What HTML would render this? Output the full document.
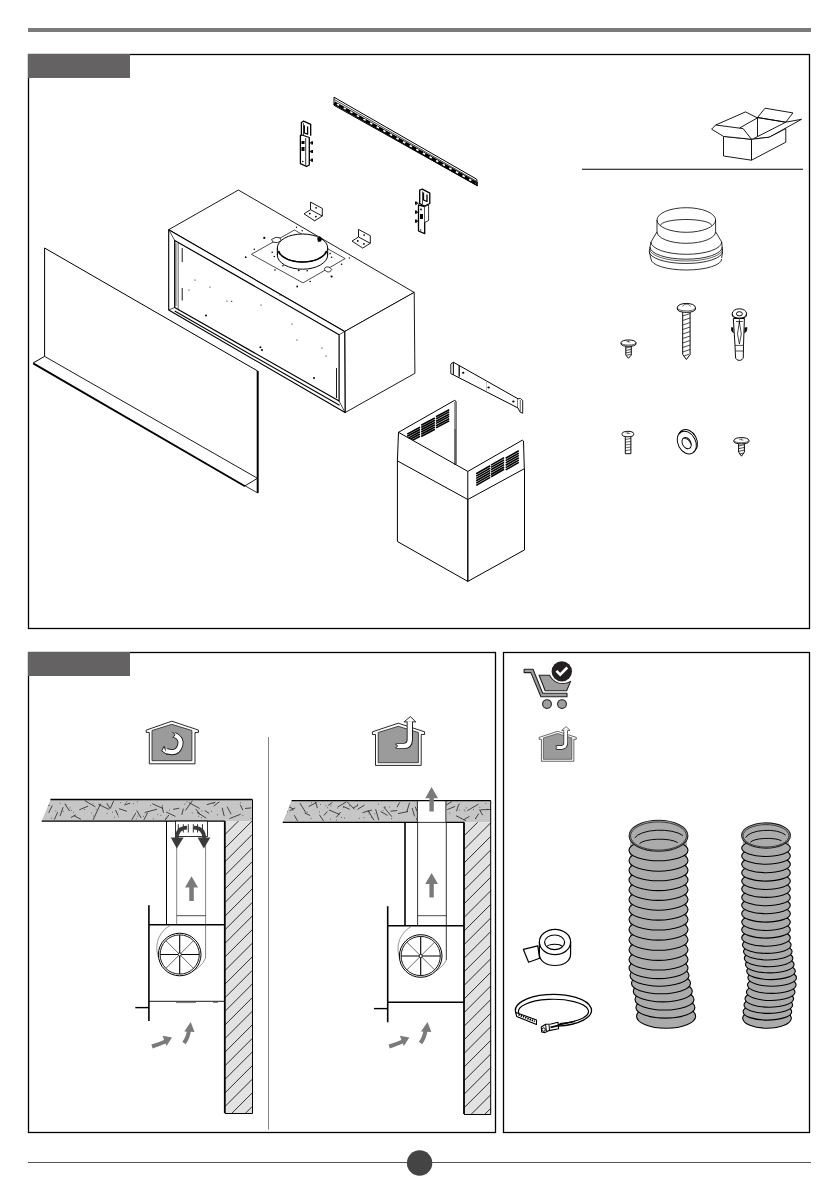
<!DOCTYPE html>
<html><head><meta charset="utf-8"><title>Installation</title>
<style>
html,body{margin:0;padding:0;background:#fff;width:839px;height:1191px;overflow:hidden;font-family:"Liberation Sans",sans-serif;}
svg{position:absolute;left:0;top:0;display:block;}
</style></head>
<body>
<svg width="839" height="1191" viewBox="0 0 839 1191">
<g id="frames">
<rect x="28" y="28" width="783" height="4" fill="#7b7b7b"/>
<rect x="28.5" y="54.5" width="781" height="574" fill="none" stroke="#000" stroke-width="1.3"/>
<rect x="28" y="54" width="102" height="24" fill="#646262"/>
<rect x="28.5" y="652.5" width="467" height="480" fill="none" stroke="#000" stroke-width="1.3"/>
<rect x="28" y="652" width="102" height="24" fill="#646262"/>
<rect x="503.5" y="652.5" width="306" height="480" fill="none" stroke="#000" stroke-width="1.3"/>
<line x1="28" y1="1162.5" x2="811" y2="1162.5" stroke="#555" stroke-width="1.1"/>
<circle cx="419.6" cy="1163" r="12.7" fill="#444"/>
</g>
<g id="hood" fill="none" stroke="#000" stroke-width="0.9" stroke-linejoin="round">
<!-- top face -->
<path d="M168.7,229.7 L238.4,190 L414.2,292.4 L344.7,331.5 Z" fill="#fff"/>
<!-- right face -->
<path d="M344.7,331.5 L414.2,292.4 L414.9,373.3 L345.1,412.6 Z" fill="#fff"/>
<!-- front frame -->
<path d="M168.7,229.7 L344.7,331.5 L345.1,412.6 L168.7,310 Z" fill="#fff" stroke-width="1.1"/>
<path d="M174.7,240.4 L339.1,334.7 L339.1,401 L174.7,307.5 Z" stroke-width="1.2"/>
<path d="M176,243 L176,306" stroke-width="0.6"/>
<path d="M168.7,229.7 L174.7,240.4 M344.7,331.5 L339.1,334.7 M345.1,412.6 L339.1,401 M168.7,310 L174.7,307.5" stroke-width="0.7"/>
<path d="M174.7,311 L339.5,405.3" stroke-width="1.1"/>
<path d="M178.2,243 L178.2,309" stroke-width="0.6"/>
<path d="M182.2,248 L182.2,262 M182.2,288 L182.2,300.5 M336.5,368 L336.5,398" stroke-width="0.9"/>
<!-- duct plate -->
<path d="M251.4,254.3 L294.4,230 L345.2,258.6 L303,282.9 Z" stroke-width="0.7"/>
<ellipse cx="302.5" cy="255" rx="25.2" ry="14.2" fill="#fff" stroke-width="1"/>
<path d="M277.3,248 L277.3,255 M327.7,248 L327.7,255" stroke-width="0.9"/>
<ellipse cx="302.5" cy="248" rx="25.2" ry="14" fill="#fff" stroke-width="1"/>
<path d="M278.5,251 C281,258 291,262 302.5,262 C314,262 324,258 326.5,251" stroke-width="1.6"/>
<path d="M271.5,239.5 l4.5,-2.2 l4,0.6 l1.2,2.5 l-3.5,2.2 l-4.5,-0.4 z" fill="#fff" stroke-width="0.8"/>
<path d="M317.5,238 l2.5,-1.4 l1.8,1.8 l-1,2.8 l-2.6,0.4 z" fill="#000" stroke-width="0.6"/>
<path d="M324.4,268.8 c0.5,-2 3.5,-2.5 5.5,-1.2 l1.8,1.8 l-1.5,2.2 c-2,0.8 -5,0.2 -5.8,-2.8z" fill="#fff" stroke-width="0.8"/>
</g>
<g id="hooddots" fill="#000">
<circle cx="264.3" cy="237.9" r="1.1"/><circle cx="254.3" cy="249.3" r="0.8"/><circle cx="245.7" cy="257.2" r="0.9"/><circle cx="272.2" cy="252.2" r="0.8"/><circle cx="274.3" cy="256.5" r="0.8"/><circle cx="282.9" cy="265.8" r="0.8"/><circle cx="275" cy="270" r="0.8"/><circle cx="298.7" cy="270.3" r="0.9"/><circle cx="307.2" cy="270.8" r="0.8"/><circle cx="310.1" cy="281.5" r="0.8"/><circle cx="297.2" cy="286.5" r="0.9"/><circle cx="330.1" cy="253.6" r="0.8"/><circle cx="331.6" cy="257.2" r="0.8"/><circle cx="341.6" cy="264.3" r="0.8"/><circle cx="331.6" cy="276.5" r="1.1"/><circle cx="349.4" cy="257.9" r="0.7"/><circle cx="302.2" cy="230.7" r="0.7"/><circle cx="296.5" cy="227.2" r="0.7"/><circle cx="314.4" cy="220.3" r="0.7"/><circle cx="195" cy="280" r="0.6"/><circle cx="206" cy="315.6" r="1"/><circle cx="210" cy="287" r="0.6"/><circle cx="227" cy="301" r="0.6"/><circle cx="231.7" cy="301.3" r="0.6"/><circle cx="261" cy="305" r="0.6"/><circle cx="262" cy="350" r="1"/><circle cx="292" cy="324" r="0.6"/><circle cx="297" cy="340" r="0.6"/><circle cx="314" cy="378" r="1"/><circle cx="322" cy="348" r="0.6"/><circle cx="326" cy="356" r="0.6"/><circle cx="189" cy="290" r="0.6"/><circle cx="280" cy="295" r="0.6"/><circle cx="260.4" cy="347.2" r="1"/>
</g>
<g id="panel" fill="none" stroke="#000" stroke-linejoin="round">
<path d="M44.6,356.4 L44.6,248 L257.7,371" stroke-width="1"/>
<path d="M257.7,371 L257.7,492.9" stroke-width="2"/>
<path d="M44.6,356.4 L257.5,478.3 L245,485.8" stroke-width="0.9"/>
<path d="M44.6,356.4 L33.2,362.9" stroke-width="1"/>
<path d="M33.2,363.4 L245,486.3" stroke-width="1.8"/>
<path d="M245,485.8 L257.5,492.9" stroke-width="0.8"/>
</g>
<g id="rail" stroke="#000" fill="none">
<path d="M334,97.2 L476.7,179.2 L477.5,185.9 L334,105.3 Z" fill="#fff" stroke-width="1"/>
<path d="M334.5,99.6 L476.7,181.3" stroke-width="0.7"/>
<path d="M334.3,102.9 L477.2,183.9" stroke-width="3.5"/>
<path d="M337,104.1 L476,183.2" stroke="#fff" stroke-width="1.6" stroke-dasharray="2.6 5"/>
</g>
<g id="brackets" stroke="#000" fill="#fff" stroke-width="1.3" stroke-linejoin="round">
<!-- bracket 1 -->
<path d="M301.4,135.5 L301.4,122.5 L303.6,121.1 L310.7,124.3 L310.7,135.8"/>
<path d="M303.5,123 L303.5,135" stroke-width="0.7"/>
<path d="M304.3,125.3 L304.3,133 L307.6,134.2 L307.6,126.6" fill="none" stroke-width="1.3"/>
<path d="M300.4,135.4 L300.4,163.7 L306.5,166.5 L309.3,165 L309.3,137.5 L302,135Z"/>
<path d="M305.7,138 L305.7,166" stroke-width="0.8"/>
<path d="M309.3,142.9 h2.2 M309.3,151.5 h2.2 M309.3,160.1 h2.2" stroke-width="1.3"/>
<path d="M311.2,141.3 h1.8 v3.2 h-1.8z M311.2,149.9 h1.8 v3.2 h-1.8z M311.2,158.5 h1.8 v3.2 h-1.8z" fill="#000" stroke="none"/>
<path d="M301.5,141 h3 v3 h-3z M301.5,147 h3 v4 h-3z" fill="#000" stroke="none"/>
<circle cx="302.8" cy="161.5" r="0.8" fill="#000" stroke="none"/>
<!-- bracket 2 -->
<path d="M419.7,190.1 L422.3,189.2 L429.8,193.1 L429.8,203.5 L424.5,206 L419.7,203.5 Z"/>
<path d="M422.5,191.5 L422.5,204" stroke-width="0.7"/>
<path d="M423.5,192.5 L423.5,200 L427,201.5 L427,194.5" fill="none" stroke-width="1.3"/>
<path d="M424.7,206.5 L428.6,205 L428.6,220.5 L424.7,222.5 Z" fill="#ddd" stroke="none"/>
<path d="M418.5,205 L418.5,231 L424.7,233.6 L424.7,206.5 Z"/>
<path d="M424.7,206.5 L428.6,205 L428.6,220.5 L424.7,222.5" stroke-width="0.8"/>
<path d="M418.5,203.2 h-2.2 M418.5,212.2 h-2.2 M418.5,221.1 h-2.2" stroke-width="1.3"/>
<path d="M415,201.6 h1.8 v3.2 h-1.8z M415,210.6 h1.8 v3.2 h-1.8z M415,219.5 h1.8 v3.2 h-1.8z" fill="#000" stroke="none"/>
<circle cx="421" cy="209.5" r="0.9" fill="#000" stroke="none"/>
<path d="M420,214 h3 v5 h-3z" fill="#000" stroke="none"/>
<circle cx="420.7" cy="230" r="0.7" fill="#000" stroke="none"/>
<!-- small L brackets -->
<path d="M310.5,202.1 L322.3,208.4 L322.3,216 L310.5,209.7 Z M310.5,209.7 L304,213.8 L314.7,220.8 L322.3,216" stroke-width="0.9"/>
<circle cx="316.1" cy="207.8" r="0.9" fill="#000" stroke="none"/><circle cx="309.8" cy="213.6" r="0.9" fill="#000" stroke="none"/><circle cx="315.9" cy="216.6" r="0.9" fill="#000" stroke="none"/>
<path d="M358.5,229.4 L370.3,235.7 L370.3,243.3 L358.5,237.0 Z M358.5,237.0 L352,241.1 L362.7,248.1 L370.3,243.3" stroke-width="0.9"/>
<circle cx="364.1" cy="235.1" r="0.9" fill="#000" stroke="none"/><circle cx="357.8" cy="240.9" r="0.9" fill="#000" stroke="none"/><circle cx="363.9" cy="243.9" r="0.9" fill="#000" stroke="none"/>
</g>
<g id="chimney" fill="none" stroke="#000" stroke-width="0.9" stroke-linejoin="round">
<!-- bracket bar -->
<path d="M453.3,362.2 L518,398.8 L518,408 L453.3,374.8 Z" fill="#fff" stroke-width="1"/>
<path d="M450.8,364 L453.3,362.2 L453.3,374.8 L450.8,373.6 Z" fill="#fff" stroke-width="0.9"/>
<path d="M459.2,365.5 L459.2,376.8" stroke-width="1.3"/>
<path d="M486.5,381 L486.5,391.5" stroke="#999" stroke-width="0.6"/>
<path d="M518,398.8 L520.5,398.5 L522.7,400.5 L522.7,413.3 L520,412 L518,408" fill="#fff" stroke-width="0.9"/>
<path d="M520.3,400 L520.3,411.5" stroke-width="0.6"/>
<ellipse cx="463.2" cy="372.7" rx="1.2" ry="1" fill="#000" stroke="none"/><ellipse cx="488.6" cy="387.4" rx="1.2" ry="1" fill="#000" stroke="none"/><ellipse cx="513.4" cy="401.6" rx="1.2" ry="1" fill="#000" stroke="none"/>
<!-- upper piece -->
<path d="M398.5,432.3 L454.5,400.4 L456,401.3 L456,464.5" stroke-width="1"/>
<path d="M454.6,402 L454.6,429" stroke="#999" stroke-width="1.2"/>
<path d="M455,429 L455,465" stroke="#555" stroke-width="1.6"/>
<path d="M398.5,432.3 L397.4,460.9" stroke-width="1"/>
<path d="M398.5,432.3 L467.8,471.4 L467.8,499.5" stroke-width="1"/>
<path d="M467.8,471.4 L522.3,440.2 L523.5,441 L524.3,468.6" stroke-width="1"/>
<!-- lower box -->
<path d="M397.4,460.9 L467.8,499.5 L524.5,468.6 L524.5,549.9 L467.8,581.4 L397.4,541.5 Z" fill="none" stroke-width="1"/>
<path d="M467.8,499.5 L467.8,581.4" stroke-width="1.4"/>
</g>
<defs><clipPath id="cbk"><path d="M398.5,432.3 L454.5,400.4 L454.5,463.9 Z"/></clipPath></defs>
<g id="vents" stroke="#000" stroke-width="1.6" fill="none">
<g clip-path="url(#cbk)">
<path d="M407.2,434.1 l12.8,-6.8 M407.2,436.3 l12.8,-6.8 M407.2,438.6 l12.8,-6.8 M407.2,440.8 l12.8,-6.8 M407.2,443.1 l12.8,-6.8"/>
<path d="M421.2,425.3 l13.7,-7.3 M421.2,427.5 l13.7,-7.3 M421.2,429.8 l13.7,-7.3 M421.2,432.0 l13.7,-7.3 M421.2,434.3 l13.7,-7.3 M421.2,436.5 l13.7,-7.3"/>
<path d="M436.0,416.7 l13.2,-7.0 M436.0,418.9 l13.2,-7.0 M436.0,421.2 l13.2,-7.0 M436.0,423.4 l13.2,-7.0 M436.0,425.7 l13.2,-7.0 M436.0,427.9 l13.2,-7.0"/>
</g>
<path d="M476.2,473.7 l14.0,-8.0 M476.2,476.1 l14.0,-8.0 M476.2,478.4 l14.0,-8.0 M476.2,480.8 l14.0,-8.0 M476.2,483.1 l14.0,-8.0 M476.2,485.4 l14.0,-8.0"/>
<path d="M491.0,465.1 l13.1,-7.5 M491.0,467.4 l13.1,-7.5 M491.0,469.8 l13.1,-7.5 M491.0,472.1 l13.1,-7.5 M491.0,474.5 l13.1,-7.5 M491.0,476.8 l13.1,-7.5"/>
<path d="M505.7,458.2 l13.1,-7.5 M505.7,460.6 l13.1,-7.5 M505.7,462.9 l13.1,-7.5 M505.7,465.2 l13.1,-7.5 M505.7,467.6 l13.1,-7.5 M505.7,469.9 l13.1,-7.5"/>
</g>
<g id="cardbox" fill="#fff" stroke="#000" stroke-width="0.9" stroke-linejoin="round">
<path d="M715.7,125 L745.5,111.9 L757.4,117.9 L739.6,128"/>
<path d="M757.5,117.5 L765,108.2 L792.9,112.9 L785.8,122.2 Z"/>
<path d="M757.5,117.5 L785.8,122.2 M757.5,117.5 L757.5,136.5" fill="none"/>
<path d="M753.6,138.6 L785.8,122.2 L801.5,119.3 L769.3,137.2 L751.5,139.3"/>
<path d="M751.5,139.3 L769.3,137.2 L785.8,128.6 L785.8,142.2 L751.5,160.2 Z"/>
<path d="M723.5,136.4 L751.5,139.3 L751.5,160.2 L723.5,156 Z"/>
<path d="M711.6,129.2 L715.7,125 L743.1,128.6 L751.5,139.3 L723.5,136.4 Z"/>
</g>
<line x1="582" y1="169.3" x2="803" y2="169.3" stroke="#000" stroke-width="1.1"/>
<g id="adapter" fill="none" stroke="#000" stroke-width="0.8">
<ellipse cx="686.3" cy="220" rx="29.3" ry="12.3"/>
<path d="M660.5,225.5 A25.5,6 0 0 1 711.5,225.5"/>
<path d="M657,220 L657,231.8 M715.6,220 L715.6,231.8"/>
<path d="M657,231.8 A29.3,11.5 0 0 0 715.6,231.8"/>
<path d="M657,231.8 L651,242 L650,247 L649.3,251.5 L651,259 M715.6,231.8 L721.7,242 L722.2,247 L722.5,251.5 L721.7,258"/>
<path d="M651,242 A35.35,12.3 0 0 0 721.7,242"/>
<path d="M650,247 A36.1,12.2 0 0 0 722.2,247"/>
<path d="M649.8,249 A36.3,12 0 0 0 722.4,249" stroke-width="0.6"/>
<path d="M649.3,251.5 A36.6,12 0 0 0 722.5,251.5"/>
<path d="M651,259 A35.35,11 0 0 0 721.7,259"/>
</g>
<g id="screws" fill="#fff" stroke="#000" stroke-width="0.95" stroke-linejoin="round">
<!-- small screw 1 -->
<path d="M625.8,345.5 L625.8,355 L628.4,358.3 L631.3,355 L631.3,345.5"/>
<path d="M625.8,348 l5.5,-1.2 M625.8,350.5 l5.5,-1.2 M625.8,353 l5.5,-1.2 M626.5,355.3 l4.3,-1" fill="none" stroke-width="0.7"/>
<path d="M621,342.8 C621,339 636,339 636,342.8 L636,344 C636,347 621,347 621,344 Z"/>
<path d="M621,342.8 C621,345.8 636,345.8 636,342.8" fill="none" stroke-width="0.6"/>
<path d="M626.5,341.3 l3.8,0.8 M628.4,340.3 l0,2" fill="none" stroke-width="0.5"/>
<!-- long screw 2 -->
<path d="M682.7,311.5 L682.7,354.5 L686.4,359.5 L690.1,354.5 L690.1,311.5"/>
<path d="M682.7,316 l7.4,-2.5 M682.7,320.5 l7.4,-2.5 M682.7,325 l7.4,-2.5 M682.7,329.5 l7.4,-2.5 M682.7,334 l7.4,-2.5 M682.7,338.5 l7.4,-2.5 M682.7,343 l7.4,-2.5 M682.7,347.5 l7.4,-2.5 M682.7,352 l7.4,-2.5 M684,356 l5,-1.8" fill="none" stroke-width="0.7"/>
<path d="M677.3,307.7 C677.3,302 695.5,302 695.5,307.7 L695.5,309 C695.5,313.5 677.3,313.5 677.3,309 Z"/>
<path d="M677.3,307.7 C677.3,312 695.5,312 695.5,307.7" fill="none" stroke-width="0.6"/>
<path d="M682.5,306.5 C684,303.5 689,303.5 690.5,306.5" fill="none" stroke-width="0.6"/>
<!-- wall plug -->
<path d="M733.3,318.5 L735,345.4 L735.5,357 C735.5,361.5 743.3,361.5 743.3,357 L743.5,345.4 L744.4,318.5 Z"/>
<path d="M735,345.4 L743.5,345.4 M735.6,351 L743,351" fill="none" stroke-width="0.7"/>
<path d="M739.4,322 L737.5,334 L739.4,344 L741.3,334 Z M736,321.5 L742.8,321.5 M739.4,319 L739.4,324" fill="none" stroke-width="0.7"/>
<path d="M733.2,328 L731.5,327.6 L731.8,331 L733.6,333 M744.6,328 L746.9,327.6 L746.6,331 L744.2,333" fill="#000" stroke-width="0.8"/>
<ellipse cx="739.4" cy="313.6" rx="7.2" ry="4.8"/>
<path d="M732.2,313.6 L732.5,316 C733.5,319 745.3,319 746.3,316 L746.6,313.6" fill="none"/>
<ellipse cx="739.4" cy="313.8" rx="3" ry="2.1" fill="none"/>
<!-- machine screw 3 -->
<path d="M625.3,436.5 L625.3,453.7 L630.9,453.7 L630.9,436.5"/>
<path d="M625.3,439.5 l5.6,-1 M625.3,442.3 l5.6,-1 M625.3,445.1 l5.6,-1 M625.3,447.9 l5.6,-1 M625.3,450.7 l5.6,-1" fill="none" stroke-width="0.6"/>
<path d="M622.1,433.7 C622.1,430.5 633.7,430.5 633.7,433.7 L633.7,434.7 C633.7,437.5 622.1,437.5 622.1,434.7 Z"/>
<path d="M625.5,432.8 l4.8,0.8 M627.9,431.8 l0,2" fill="none" stroke-width="0.5"/>
<!-- washer -->
<g transform="rotate(-28 686.8 442.6)" stroke-width="0.95">
<ellipse cx="688.6" cy="441.6" rx="8.8" ry="12"/>
<ellipse cx="686.8" cy="442.6" rx="8.8" ry="12"/>
<ellipse cx="686.4" cy="443" rx="4.2" ry="6"/>
<path d="M685.6,437.3 C688.6,438 690.3,442 689.6,446.5" fill="none" stroke-width="0.8"/>
</g>
<!-- screw 5 -->
<path d="M738.6,443.5 L738.6,452 L741.5,456.2 L744.4,452 L744.4,443.5"/>
<path d="M738.6,446 l5.8,-1.3 M738.6,448.7 l5.8,-1.3 M738.6,451.4 l5.8,-1.3 M739.5,454 l4,-1" fill="none" stroke-width="0.7"/>
<path d="M733.9,440.5 C733.9,436.6 748.9,436.6 748.9,440.5 L748.9,441.6 C748.9,444.6 733.9,444.6 733.9,441.6 Z"/>
<path d="M733.9,440.5 C733.9,443.4 748.9,443.4 748.9,440.5" fill="none" stroke-width="0.6"/>
<path d="M739.3,439.3 l4.2,0.9 M741.4,438.2 l0,2.1" fill="none" stroke-width="0.5"/>
</g>
<g id="sec2">
<path d="M50.5,799.5 L252.3,799.5 L252.3,821.1 L41.7,821.1 Z" fill="#c6c6c6" stroke="none"/>
<clipPath id="cs50"><path d="M50.5,799.5 L252.3,799.5 L252.3,821.1 L41.7,821.1 Z"/></clipPath>
<path clip-path="url(#cs50)" d="M45.4,806.8 L48.0,800.7 M48.7,812.9 L52.3,805.4 M54.3,819.6 L57.7,812.2 M63.1,807.1 L60.0,816.1 M64.7,803.7 L69.7,811.1 M70.9,817.5 L75.9,814.8 M74.1,815.7 L80.9,819.3 M79.3,809.8 L88.1,806.1 M84.8,800.7 L95.4,806.8 M96.1,813.4 L93.1,819.9 M95.9,813.7 L100.7,803.7 M98.3,804.2 L109.1,809.5 M110.3,809.1 L106.8,803.2 M110.4,808.1 L113.8,800.7 M115.5,810.0 L118.0,815.4 M119.1,808.7 L126.9,811.3 M124.3,805.1 L130.2,803.1 M131.8,819.9 L135.8,812.9 M141.2,818.0 L136.7,810.4 M143.9,819.9 L147.7,812.6 M145.2,812.4 L157.0,809.2 M152.3,803.7 L162.8,808.4 M162.0,806.3 L163.5,812.7 M165.2,819.9 L168.8,815.1 M166.1,812.0 L175.5,816.4 M173.7,809.3 L179.3,808.2 M181.8,814.8 L183.3,808.6 M192.4,800.7 L185.5,810.4 M188.8,802.6 L199.8,808.5 M195.9,809.0 L199.9,814.3 M197.0,812.4 L206.3,818.1 M204.8,810.6 L209.1,813.4 M206.8,804.6 L215.3,802.3 M213.7,806.1 L219.3,801.9 M222.2,807.8 L224.2,816.1 M227.1,806.6 L231.1,814.2 M229.5,818.6 L240.7,814.2 M242.9,810.2 L240.2,804.7 M245.1,808.5 L251.3,807.9 M44.3,811.8 l0.7,0 M49.2,805.3 l0.7,0 M48.2,805.4 l0.7,0 M51.3,818.2 l0.7,0 M55.5,811.0 l0.7,0 M59.6,803.2 l0.7,0 M62.8,811.4 l0.7,0 M69.7,807.9 l0.7,0 M65.7,804.7 l0.7,0 M73.1,812.2 l0.7,0 M70.9,810.5 l0.7,0 M84.1,809.5 l0.7,0 M91.3,812.9 l0.7,0 M93.1,816.0 l0.7,0 M92.6,803.6 l0.7,0 M95.8,809.4 l0.7,0 M106.7,813.5 l0.7,0 M112.3,812.2 l0.7,0 M114.0,817.3 l0.7,0 M118.4,816.9 l0.7,0 M120.4,802.7 l0.7,0 M125.2,803.3 l0.7,0 M126.4,801.9 l0.7,0 M133.0,803.7 l0.7,0 M135.9,819.0 l0.7,0 M137.5,816.1 l0.7,0 M136.9,801.9 l0.7,0 M144.6,812.8 l0.7,0 M143.3,816.4 l0.7,0 M150.1,805.4 l0.7,0 M152.9,818.8 l0.7,0 M157.5,814.4 l0.7,0 M160.5,815.4 l0.7,0 M165.6,818.3 l0.7,0 M161.9,805.4 l0.7,0 M169.1,809.9 l0.7,0 M167.9,815.6 l0.7,0 M173.1,809.1 l0.7,0 M184.4,804.1 l0.7,0 M186.7,801.8 l0.7,0 M191.8,812.9 l0.7,0 M198.2,816.2 l0.7,0 M201.1,817.7 l0.7,0 M201.6,810.9 l0.7,0 M211.2,811.3 l0.7,0 M212.8,803.4 l0.7,0 M216.9,814.9 l0.7,0 M240.0,802.8 l0.7,0 M242.5,815.3 l0.7,0 M250.5,818.5 l0.7,0" stroke="#1a1a1a" stroke-width="0.75" fill="none"/>
<path d="M50.5,799.5 L252.3,799.5" stroke="#000" stroke-width="1.3"/>
<rect x="224.8" y="821.1" width="27.5" height="291.9" fill="#e2e2e2" stroke="none"/>
<path d="M224.8,834.7 L238.4,821.1 M224.8,848.3 L252.0,821.1 M224.8,861.9 L252.3,834.4 M224.8,875.5 L252.3,848.0 M224.8,889.1 L252.3,861.6 M224.8,902.7 L252.3,875.2 M224.8,916.3 L252.3,888.8 M224.8,929.9 L252.3,902.4 M224.8,943.5 L252.3,916.0 M224.8,957.1 L252.3,929.6 M224.8,970.7 L252.3,943.2 M224.8,984.3 L252.3,956.8 M224.8,997.9 L252.3,970.4 M224.8,1011.5 L252.3,984.0 M224.8,1025.1 L252.3,997.6 M224.8,1038.7 L252.3,1011.2 M224.8,1052.3 L252.3,1024.8 M224.8,1065.9 L252.3,1038.4 M224.8,1079.5 L252.3,1052.0 M224.8,1093.1 L252.3,1065.6 M224.8,1106.7 L252.3,1079.2 M232.1,1113.0 L252.3,1092.8 M245.7,1113.0 L252.3,1106.4" stroke="#000" stroke-width="0.8" fill="none"/>
<path d="M41.7,821.1 L224.8,821.1" fill="none" stroke="#000" stroke-width="1.3"/><path d="M224.8,1113.5 L252.5,1113.5 L252.5,799.5" fill="none" stroke="#000" stroke-width="1"/>
<path d="M224.8,821.1 L224.8,1113" stroke="#000" stroke-width="1.8"/>
<path d="M166.5,821.1 L166.5,924.7" stroke="#000" stroke-width="1"/>
<path d="M176.7,836.5 L176.7,924.7 M205.6,836.5 L205.6,958" stroke="#777" stroke-width="0.9" fill="none"/>
<path d="M176.7,915.7 L205.6,915.7" stroke="#000" stroke-width="0.7"/>
<rect x="175.6" y="821.1" width="31.9" height="15.4" fill="#fff" stroke="#000" stroke-width="0.8"/>
<path d="M178.3,824.2 v8.3 M183.3,824.2 v8.3 M188.3,824.2 v8.3 M193.3,824.2 v8.3 M197.5,824.2 v8.3 M202.5,824.2 v8.3 M178.3,828.3 h5 M193.3,828.3 h4.2" stroke="#000" stroke-width="0.8" fill="none"/>
<path d="M187,827.6 C180,827.6 176.8,832 176.8,838.5" stroke="#3a3a3a" stroke-width="3.8" fill="none"/>
<path d="M170.8,837.5 L183.6,837.5 L176.8,848.5 Z" fill="#3a3a3a"/>
<path d="M194,827.6 C201,827.6 204.2,832 204.2,838.5" stroke="#3a3a3a" stroke-width="3.8" fill="none"/>
<path d="M197.6,837.5 L210.4,837.5 L203.8,848.5 Z" fill="#3a3a3a"/>
<path d="M191.5,876.3 L198,887.5 L193.8,887.5 L193.8,901 L189.3,901 L189.3,887.5 L185,887.5 Z" fill="#7a7a7a"/>
<path d="M148.9,924.7 L224.8,924.7" stroke="#000" stroke-width="1.5"/>
<path d="M148.9,1001.3 L224.8,1001.3" stroke="#000" stroke-width="0.9"/>
<path d="M148.9,905.2 L148.9,1021" stroke="#000" stroke-width="1.6"/>
<path d="M135.3,1007.6 L148.9,1007.6" stroke="#000" stroke-width="1.4"/>
<path d="M170,925.5 A25.5,25.5 0 1 0 205.6,958" stroke="#555" stroke-width="0.6" fill="none"/>
<circle cx="179.7" cy="954.5" r="21.3" fill="#fff" stroke="#000" stroke-width="1"/>
<circle cx="179.7" cy="954.5" r="19.6" fill="none" stroke="#000" stroke-width="0.9"/>
<path d="M179.7,954.5 L199.3,954.5 M179.7,954.5 L179.7,974.1 M179.7,954.5 L160.1,954.5 M179.7,954.5 L179.7,934.9" stroke="#000" stroke-width="1.1" fill="none"/>
<path d="M179.7,954.5 L193.6,968.4 M179.7,954.5 L165.8,968.4 M179.7,954.5 L165.8,940.6 M179.7,954.5 L193.6,940.6" stroke="#000" stroke-width="0.6" fill="none"/>
<circle cx="179.7" cy="954.5" r="1.6" fill="#fff" stroke="#000" stroke-width="0.8"/>
<path d="M176,1002.6 h20 M213,1002.4 h5" stroke="#444" stroke-width="0.7"/>
<path d="M152,1046.5 C158,1044.5 162,1043 166,1041.2" stroke="#7a7a7a" stroke-width="4" fill="none"/>
<path d="M162.5,1035.8 L172,1037.6 L166.5,1046 Z" fill="#7a7a7a"/>
<path d="M184,1043 C187,1039 188.5,1035 189,1030" stroke="#7a7a7a" stroke-width="4" fill="none"/>
<path d="M184.3,1031.5 L190.7,1022 L194.5,1032 Z" fill="#7a7a7a"/>
<path d="M268.5,737 L268.5,1129.7" stroke="#777" stroke-width="0.9"/>
<path d="M291.6,800.6 L490.7,800.6 L490.7,822.3 L282.7,822.3 Z" fill="#c6c6c6" stroke="none"/>
<clipPath id="cs291"><path d="M291.6,800.6 L490.7,800.6 L490.7,822.3 L282.7,822.3 Z"/></clipPath>
<path clip-path="url(#cs291)" d="M282.1,803.3 L293.3,809.0 M289.5,810.8 L295.3,807.9 M294.3,815.2 L297.6,821.1 M305.9,812.7 L299.9,803.1 M304.6,812.9 L310.1,815.5 M308.7,806.5 L316.6,802.5 M315.5,801.8 L317.4,808.1 M319.4,814.8 L323.7,821.1 M323.9,815.5 L327.4,811.4 M328.3,805.4 L332.4,802.4 M328.9,809.9 L339.5,814.4 M336.3,817.4 L340.6,812.0 M337.7,807.0 L346.3,802.0 M343.0,806.4 L349.7,809.3 M347.1,801.8 L354.5,809.3 M353.0,808.1 L357.9,805.4 M357.5,809.4 L364.5,805.1 M362.5,812.7 L371.9,810.0 M367.9,810.1 L373.9,820.2 M375.6,809.2 L378.8,820.3 M380.6,811.5 L387.5,815.4 M383.8,807.1 L391.8,816.7 M390.6,811.2 L397.2,810.5 M399.6,802.4 L397.1,807.2 M398.0,813.6 L408.0,811.5 M409.6,802.8 L406.9,811.3 M414.6,816.4 L412.1,808.0 M415.1,806.7 L418.7,814.6 M425.1,814.2 L422.2,809.4 M423.0,812.6 L434.9,810.3 M430.8,804.3 L440.8,807.3 M436.7,806.4 L444.1,804.6 M441.3,807.9 L451.6,801.8 M447.3,809.6 L455.1,806.4 M456.5,811.3 L458.7,804.3 M456.3,815.8 L466.1,820.9 M464.2,819.4 L469.5,816.4 M467.4,810.6 L478.5,804.1 M475.3,819.0 L478.7,813.7 M482.7,815.2 L479.4,809.5 M480.5,809.8 L492.6,809.4 M289.7,805.5 l0.7,0 M287.3,811.7 l0.7,0 M292.7,810.4 l0.7,0 M306.8,812.1 l0.7,0 M310.7,818.4 l0.7,0 M311.3,802.9 l0.7,0 M319.3,811.9 l0.7,0 M320.0,804.5 l0.7,0 M327.2,807.7 l0.7,0 M325.6,805.7 l0.7,0 M330.6,806.0 l0.7,0 M330.2,819.1 l0.7,0 M337.0,808.0 l0.7,0 M336.3,820.1 l0.7,0 M341.3,817.4 l0.7,0 M344.0,818.0 l0.7,0 M343.0,807.6 l0.7,0 M349.1,805.8 l0.7,0 M357.1,804.2 l0.7,0 M357.3,805.1 l0.7,0 M363.7,817.7 l0.7,0 M358.9,818.4 l0.7,0 M368.6,814.0 l0.7,0 M368.7,811.9 l0.7,0 M370.9,817.4 l0.7,0 M378.1,804.1 l0.7,0 M374.5,813.9 l0.7,0 M384.3,806.9 l0.7,0 M382.7,810.7 l0.7,0 M389.2,807.1 l0.7,0 M385.3,807.3 l0.7,0 M391.3,818.7 l0.7,0 M407.0,811.7 l0.7,0 M416.2,819.2 l0.7,0 M416.2,818.8 l0.7,0 M421.5,817.1 l0.7,0 M428.3,805.4 l0.7,0 M435.0,804.7 l0.7,0 M449.4,813.0 l0.7,0 M456.5,816.3 l0.7,0 M459.3,810.2 l0.7,0 M459.4,804.0 l0.7,0 M463.8,809.9 l0.7,0 M464.6,811.0 l0.7,0 M465.9,807.9 l0.7,0 M473.3,809.6 l0.7,0 M475.4,818.6 l0.7,0 M480.0,810.6 l0.7,0 M479.5,807.2 l0.7,0 M486.7,809.3 l0.7,0 M485.5,803.7 l0.7,0" stroke="#1a1a1a" stroke-width="0.75" fill="none"/>
<rect x="417.3" y="800.6" width="28.599999999999966" height="21.699999999999932" fill="#fff" stroke="#000" stroke-width="0.8"/>
<path d="M291.6,800.6 L490.7,800.6" stroke="#000" stroke-width="1.3"/>
<rect x="464" y="822.3" width="26.69999999999999" height="291.70000000000005" fill="#e2e2e2" stroke="none"/>
<path d="M464.0,835.9 L477.6,822.3 M464.0,849.5 L490.7,822.8 M464.0,863.1 L490.7,836.4 M464.0,876.7 L490.7,850.0 M464.0,890.3 L490.7,863.6 M464.0,903.9 L490.7,877.2 M464.0,917.5 L490.7,890.8 M464.0,931.1 L490.7,904.4 M464.0,944.7 L490.7,918.0 M464.0,958.3 L490.7,931.6 M464.0,971.9 L490.7,945.2 M464.0,985.5 L490.7,958.8 M464.0,999.1 L490.7,972.4 M464.0,1012.7 L490.7,986.0 M464.0,1026.3 L490.7,999.6 M464.0,1039.9 L490.7,1013.2 M464.0,1053.5 L490.7,1026.8 M464.0,1067.1 L490.7,1040.4 M464.0,1080.7 L490.7,1054.0 M464.0,1094.3 L490.7,1067.6 M464.0,1107.9 L490.7,1081.2 M471.5,1114.0 L490.7,1094.8 M485.1,1114.0 L490.7,1108.4" stroke="#000" stroke-width="0.8" fill="none"/>
<path d="M282.7,822.3 L417.3,822.3 M445.9,822.3 L464,822.3" fill="none" stroke="#000" stroke-width="1.3"/><path d="M464,1114.5 L490.7,1114.5 L490.7,800.6" fill="none" stroke="#000" stroke-width="1"/>
<path d="M464,822.3 L464,1114" stroke="#000" stroke-width="1.8"/>
<path d="M405,822.3 L405,925.8" stroke="#000" stroke-width="1.6"/>
<path d="M417.6,822.3 L417.6,925.8 M446.3,822.3 L446.3,960" stroke="#000" stroke-width="0.8" fill="none"/>
<path d="M417.6,915.7 L446.3,915.7" stroke="#000" stroke-width="0.7"/>
<path d="M431.6,787 L438,798.2 L433.8,798.2 L433.8,811.4 L429.4,811.4 L429.4,798.2 L425.2,798.2 Z" fill="#7a7a7a"/>
<path d="M431.6,872.9 L438,884.1 L433.8,884.1 L433.8,897.5 L429.4,897.5 L429.4,884.1 L425.2,884.1 Z" fill="#7a7a7a"/>
<path d="M387.7,925.8 L464,925.8" stroke="#000" stroke-width="1.5"/>
<path d="M387.7,1002.3 L464,1002.3" stroke="#000" stroke-width="1.6"/>
<path d="M387.7,906.2 L387.7,1022.3" stroke="#000" stroke-width="1.6"/>
<path d="M374,1008.6 L387.7,1008.6" stroke="#000" stroke-width="1.4"/>
<path d="M411,926.5 A25.5,25.5 0 1 0 446.3,960" stroke="#555" stroke-width="0.6" fill="none"/>
<circle cx="420.7" cy="956" r="21.3" fill="#fff" stroke="#000" stroke-width="1"/>
<circle cx="420.7" cy="956" r="19.6" fill="none" stroke="#000" stroke-width="0.9"/>
<path d="M420.7,956.0 L440.3,956.0 M420.7,956.0 L420.7,975.6 M420.7,956.0 L401.1,956.0 M420.7,956.0 L420.7,936.4" stroke="#000" stroke-width="1.1" fill="none"/>
<path d="M420.7,956.0 L434.6,969.9 M420.7,956.0 L406.8,969.9 M420.7,956.0 L406.8,942.1 M420.7,956.0 L434.6,942.1" stroke="#000" stroke-width="0.6" fill="none"/>
<circle cx="420.7" cy="956" r="1.6" fill="#fff" stroke="#000" stroke-width="0.8"/>
<path d="M389.2,1046.5 C395,1044.5 399,1043 403,1041.2" stroke="#7a7a7a" stroke-width="4" fill="none"/>
<path d="M399.8,1035.8 L409.3,1037.6 L403.8,1046 Z" fill="#7a7a7a"/>
<path d="M420.5,1043 C423.5,1039 425,1035 425.5,1030" stroke="#7a7a7a" stroke-width="4" fill="none"/>
<path d="M420.9,1031.5 L427.6,1022 L431.3,1032 Z" fill="#7a7a7a"/>
</g>
<!--/sec2-->
<g id="sec3">
<path d="M630.2,835.7 L630.0,850.2 L630.0,860.6 L630.0,870.2 L630.0,880.0 L630.0,889.8 L630.0,899.6 L630.0,909.5 L630.0,919.4 L630.0,929.5 L630.0,939.7 L630.0,949.8 L630.0,959.4 L630.0,968.0 L631.0,975.6 L632.5,983.2 L634.3,991.3 L636.0,999.4 L636.9,1007.5 L637.6,1017.7 L694.6,1017.7 L693.9,1007.5 L693.0,999.4 L691.3,991.3 L689.5,983.2 L688.0,975.6 L687.0,968.0 L687.0,959.4 L687.0,949.8 L687.0,939.7 L687.0,929.5 L687.0,919.4 L687.0,909.5 L687.0,899.6 L687.0,889.8 L687.0,880.0 L687.0,870.2 L687.0,860.6 L687.0,850.2 L686.8,835.7 Z" fill="#ababab" stroke="none"/>
<ellipse cx="666.1" cy="1016.2" rx="29.5" ry="12.1" fill="#ababab" stroke="#000" stroke-width="1.1"/>
<ellipse cx="665.4" cy="1007.5" rx="29.5" ry="10.6" fill="#ababab" stroke="#000" stroke-width="1.1"/>
<ellipse cx="664.5" cy="999.4" rx="29.5" ry="10.6" fill="#ababab" stroke="#000" stroke-width="1.1"/>
<ellipse cx="662.8" cy="991.3" rx="29.5" ry="10.6" fill="#ababab" stroke="#000" stroke-width="1.1"/>
<ellipse cx="661.0" cy="983.2" rx="29.5" ry="10.6" fill="#ababab" stroke="#000" stroke-width="1.1"/>
<ellipse cx="659.5" cy="975.6" rx="29.5" ry="10.6" fill="#ababab" stroke="#000" stroke-width="1.1"/>
<ellipse cx="658.5" cy="968.0" rx="29.5" ry="10.6" fill="#ababab" stroke="#000" stroke-width="1.1"/>
<ellipse cx="658.5" cy="959.4" rx="29.5" ry="10.6" fill="#ababab" stroke="#000" stroke-width="1.1"/>
<ellipse cx="658.5" cy="949.8" rx="29.5" ry="10.6" fill="#ababab" stroke="#000" stroke-width="1.1"/>
<ellipse cx="658.5" cy="939.7" rx="29.5" ry="10.6" fill="#ababab" stroke="#000" stroke-width="1.1"/>
<ellipse cx="658.5" cy="929.5" rx="29.5" ry="10.6" fill="#ababab" stroke="#000" stroke-width="1.1"/>
<ellipse cx="658.5" cy="919.4" rx="29.5" ry="10.6" fill="#ababab" stroke="#000" stroke-width="1.1"/>
<ellipse cx="658.5" cy="909.5" rx="29.5" ry="10.6" fill="#ababab" stroke="#000" stroke-width="1.1"/>
<ellipse cx="658.5" cy="899.6" rx="29.5" ry="10.6" fill="#ababab" stroke="#000" stroke-width="1.1"/>
<ellipse cx="658.5" cy="889.8" rx="29.5" ry="10.6" fill="#ababab" stroke="#000" stroke-width="1.1"/>
<ellipse cx="658.5" cy="880.0" rx="29.5" ry="10.6" fill="#ababab" stroke="#000" stroke-width="1.1"/>
<ellipse cx="658.5" cy="870.2" rx="29.5" ry="10.6" fill="#ababab" stroke="#000" stroke-width="1.1"/>
<ellipse cx="658.5" cy="860.6" rx="29.5" ry="10.6" fill="#ababab" stroke="#000" stroke-width="1.1"/>
<ellipse cx="658.5" cy="850.2" rx="29.5" ry="10.6" fill="#ababab" stroke="#000" stroke-width="1.1"/>
<ellipse cx="658.5" cy="835.7" rx="29.4" ry="15.5" fill="#ababab" stroke="#1e1e1e" stroke-width="1.1"/>
<ellipse cx="658.5" cy="836.0" rx="28.0" ry="14.1" fill="none" stroke="#1e1e1e" stroke-width="0.8"/>
<path d="M634.8,837.9 A26.0,10.2 0 0 1 682.9,835.5" fill="none" stroke="#000" stroke-width="0.95"/>
<path d="M639.5,843.6 A20.6,6.1 0 0 1 677.7,842.6" fill="none" stroke="#000" stroke-width="0.95"/>
<path d="M742.9,835.5 L742.7,848.1 L742.7,855.9 L742.7,864.3 L742.7,872.7 L742.7,881.1 L742.7,889.0 L742.7,897.4 L742.7,905.3 L742.7,913.7 L742.7,922.1 L742.7,929.7 L742.7,937.8 L743.5,945.0 L744.5,951.6 L745.3,958.3 L746.5,964.5 L747.7,971.2 L748.9,977.8 L748.5,985.0 L747.4,992.1 L746.0,998.8 L745.0,1005.0 L744.1,1011.7 L743.7,1019.8 L790.3,1019.8 L790.7,1011.7 L791.6,1005.0 L792.6,998.8 L794.0,992.1 L795.1,985.0 L795.5,977.8 L794.3,971.2 L793.1,964.5 L791.9,958.3 L791.1,951.6 L790.1,945.0 L789.3,937.8 L789.3,929.7 L789.3,922.1 L789.3,913.7 L789.3,905.3 L789.3,897.4 L789.3,889.0 L789.3,881.1 L789.3,872.7 L789.3,864.3 L789.3,855.9 L789.3,848.1 L789.1,835.5 Z" fill="#ababab" stroke="none"/>
<ellipse cx="767.0" cy="1018.3" rx="24.3" ry="9.9" fill="#ababab" stroke="#000" stroke-width="1.1"/>
<ellipse cx="767.4" cy="1011.7" rx="24.3" ry="8.4" fill="#ababab" stroke="#000" stroke-width="1.1"/>
<ellipse cx="768.3" cy="1005.0" rx="24.3" ry="8.4" fill="#ababab" stroke="#000" stroke-width="1.1"/>
<ellipse cx="769.3" cy="998.8" rx="24.3" ry="8.4" fill="#ababab" stroke="#000" stroke-width="1.1"/>
<ellipse cx="770.7" cy="992.1" rx="24.3" ry="8.4" fill="#ababab" stroke="#000" stroke-width="1.1"/>
<ellipse cx="771.8" cy="985.0" rx="24.3" ry="8.4" fill="#ababab" stroke="#000" stroke-width="1.1"/>
<ellipse cx="772.2" cy="977.8" rx="24.3" ry="8.4" fill="#ababab" stroke="#000" stroke-width="1.1"/>
<ellipse cx="771.0" cy="971.2" rx="24.3" ry="8.4" fill="#ababab" stroke="#000" stroke-width="1.1"/>
<ellipse cx="769.8" cy="964.5" rx="24.3" ry="8.4" fill="#ababab" stroke="#000" stroke-width="1.1"/>
<ellipse cx="768.6" cy="958.3" rx="24.3" ry="8.4" fill="#ababab" stroke="#000" stroke-width="1.1"/>
<ellipse cx="767.8" cy="951.6" rx="24.3" ry="8.4" fill="#ababab" stroke="#000" stroke-width="1.1"/>
<ellipse cx="766.8" cy="945.0" rx="24.3" ry="8.4" fill="#ababab" stroke="#000" stroke-width="1.1"/>
<ellipse cx="766.0" cy="937.8" rx="24.3" ry="8.4" fill="#ababab" stroke="#000" stroke-width="1.1"/>
<ellipse cx="766.0" cy="929.7" rx="24.3" ry="8.4" fill="#ababab" stroke="#000" stroke-width="1.1"/>
<ellipse cx="766.0" cy="922.1" rx="24.3" ry="8.4" fill="#ababab" stroke="#000" stroke-width="1.1"/>
<ellipse cx="766.0" cy="913.7" rx="24.3" ry="8.4" fill="#ababab" stroke="#000" stroke-width="1.1"/>
<ellipse cx="766.0" cy="905.3" rx="24.3" ry="8.4" fill="#ababab" stroke="#000" stroke-width="1.1"/>
<ellipse cx="766.0" cy="897.4" rx="24.3" ry="8.4" fill="#ababab" stroke="#000" stroke-width="1.1"/>
<ellipse cx="766.0" cy="889.0" rx="24.3" ry="8.4" fill="#ababab" stroke="#000" stroke-width="1.1"/>
<ellipse cx="766.0" cy="881.1" rx="24.3" ry="8.4" fill="#ababab" stroke="#000" stroke-width="1.1"/>
<ellipse cx="766.0" cy="872.7" rx="24.3" ry="8.4" fill="#ababab" stroke="#000" stroke-width="1.1"/>
<ellipse cx="766.0" cy="864.3" rx="24.3" ry="8.4" fill="#ababab" stroke="#000" stroke-width="1.1"/>
<ellipse cx="766.0" cy="855.9" rx="24.3" ry="8.4" fill="#ababab" stroke="#000" stroke-width="1.1"/>
<ellipse cx="766.0" cy="848.1" rx="24.3" ry="8.4" fill="#ababab" stroke="#000" stroke-width="1.1"/>
<ellipse cx="766" cy="835.5" rx="24.4" ry="12.6" fill="#ababab" stroke="#1e1e1e" stroke-width="1.1"/>
<ellipse cx="766" cy="835.8" rx="23.0" ry="11.2" fill="none" stroke="#1e1e1e" stroke-width="0.8"/>
<path d="M745.7,837.6 A21.5,9.0 0 0 1 785.6,835" fill="none" stroke="#000" stroke-width="0.95"/>
<path d="M750.5,842.3 A16.7,4.6 0 0 1 781.4,840.7" fill="none" stroke="#000" stroke-width="0.95"/>
<g id="cart" stroke="#222" stroke-width="1.1" stroke-linejoin="round">
<path d="M524.1,669.2 L533,669.2 L542.7,693.2 L567,693.2 L567,696.8 L540.9,696.8 L530.9,672.6 L524.1,672.6 Z" fill="#9e9e9e"/>
<path d="M539.1,675.3 L549.5,675.3 C552,680 557,683.5 563,683.5 C566.5,683.5 569,682.5 570.6,681.4 L566.6,690.7 L545.2,690.7 Z" fill="#9e9e9e"/>
<circle cx="547" cy="704.1" r="4.4" fill="#9e9e9e"/>
<circle cx="562" cy="704.1" r="4.4" fill="#9e9e9e"/>
<circle cx="561.8" cy="671.4" r="11.6" fill="#fff" stroke="none"/>
<circle cx="561.8" cy="671.4" r="10.2" fill="#231f20" stroke="none"/>
<path d="M556.4,670.8 L560.2,674.6 L567.3,667.5" fill="none" stroke="#fff" stroke-width="2.6" stroke-linejoin="miter"/>
</g>
<g id="tape" fill="#fff" stroke="#000" stroke-width="1.2" stroke-linejoin="round">
<path d="M523.4,949.4 L537.8,945.8 L539.6,958.3 L528.6,962.2 Z"/>
<path d="M539.4,942 L539.4,954 C539.4,961 546,965.5 555,965.5 C564,965.5 570.6,961 570.6,954 L570.6,942"/>
<ellipse cx="555" cy="942" rx="15.6" ry="12.6"/>
<ellipse cx="554.6" cy="942.3" rx="10" ry="7.3"/>
<path d="M547,946.5 C549,943.5 560,943.5 562.5,946.5" fill="none"/>
</g>
<g id="clamp" fill="none" stroke="#000" stroke-linejoin="round">
<path d="M516.3,1013.6 A38,15.9 0 1 1 557.5,1026.1" stroke-width="1.3"/>
<path d="M518.8,1013.2 A35,12.2 0 1 1 559.6,1023.5" stroke-width="1.15"/>
<path d="M515.8,1012.4 L536.5,1019.9 L536.5,1024.4 L516.6,1016.4 Z" fill="#fff" stroke-width="1.1"/>
<path d="M518.5,1014.6 L534.8,1021.4" stroke-width="1.9" stroke-dasharray="1.4 1"/>
<path d="M541.3,1027 L545.5,1024.3 L551,1024 L558,1022.3 L558.6,1028.8 L549,1030.6 L545,1032.6 L541.6,1032 Z" fill="#fff" stroke-width="1.1"/>
<path d="M545.5,1024.3 L546.5,1031.5 M549,1024.5 L549.5,1030.3" stroke-width="1"/>
<path d="M550.5,1027.3 L559,1025.4" stroke-width="1.8"/>
<circle cx="543.6" cy="1029.6" r="1.7" stroke-width="1"/>
<path d="M558,1025 L575,1021.3" stroke-width="1.3"/>
</g>
<g id="house2"><path d="M372.4,731.8 L398.3,723.2 L424.6,731.8 L424.6,734.5 L421.2,734.5 L421.2,765.4 L375.5,765.4 L375.5,734.5 L372.4,734.5 Z" fill="#fff" stroke="#111" stroke-width="0.9"/>
<path d="M378.2,732.5 L398.3,726.3 L418.4,732.5 L418.4,762.7 L378.2,762.7 Z" fill="#9b9b9b" stroke="#222" stroke-width="0.8"/>
<path d="M396.5,746 L403.5,746 Q409.8,746 409.8,739.5 L409.8,722" fill="none" stroke="#111" stroke-width="6.2"/>
<path d="M404.1,721.9 L410.3,716.6 L415.8,721.9 Z" fill="#fff" stroke="#111" stroke-width="0.9"/>
<path d="M396.5,746 L403.5,746 Q409.8,746 409.8,739.5 L409.8,721.3" fill="none" stroke="#fff" stroke-width="4.4"/>
<path d="M395,743.6 L397.8,746 L395,748.4" fill="#9b9b9b" stroke="#111" stroke-width="0.8"/></g>
<g id="house3" transform="translate(557.6,731.3) scale(0.71) translate(-398.3,-723.2)"><path d="M372.4,731.8 L398.3,723.2 L424.6,731.8 L424.6,734.5 L421.2,734.5 L421.2,765.4 L375.5,765.4 L375.5,734.5 L372.4,734.5 Z" fill="#fff" stroke="#111" stroke-width="0.9"/>
<path d="M378.2,732.5 L398.3,726.3 L418.4,732.5 L418.4,762.7 L378.2,762.7 Z" fill="#9b9b9b" stroke="#222" stroke-width="0.8"/>
<path d="M396.5,746 L403.5,746 Q409.8,746 409.8,739.5 L409.8,722" fill="none" stroke="#111" stroke-width="6.2"/>
<path d="M404.1,721.9 L410.3,716.6 L415.8,721.9 Z" fill="#fff" stroke="#111" stroke-width="0.9"/>
<path d="M396.5,746 L403.5,746 Q409.8,746 409.8,739.5 L409.8,721.3" fill="none" stroke="#fff" stroke-width="4.4"/>
<path d="M395,743.6 L397.8,746 L395,748.4" fill="#9b9b9b" stroke="#111" stroke-width="0.8"/></g>
<g id="house1">
<path d="M146.2,730.1 L171.8,721.2 L198.5,730.1 L198.5,732.4 L195,732.4 L195,763.8 L149.3,763.8 L149.3,732.4 L146.2,732.4 Z" fill="#fff" stroke="#111" stroke-width="0.9"/>
<path d="M152,730.5 L171.8,724.3 L191.9,730.5 L191.9,760.7 L152,760.7 Z" fill="#9b9b9b" stroke="#222" stroke-width="0.8"/>
<path d="M174.5,735 C179.5,736.8 181.3,741 180.3,745 C179,750 175.5,752.3 171.5,752.2 L167,751.2" fill="none" stroke="#111" stroke-width="6"/>
<path d="M161.7,751 L164,746.3 L167.2,754.6 Z" fill="#fff" stroke="#111" stroke-width="0.9" stroke-linejoin="round"/>
<path d="M174.5,735 C179.5,736.8 181.3,741 180.3,745 C179,750 175.5,752.3 171.5,752.2 L165.5,751" fill="none" stroke="#fff" stroke-width="4.3"/>
<path d="M172.3,731.8 L175,734.8 L172.6,738" fill="#9b9b9b" stroke="#111" stroke-width="0.8"/>
</g>
</g>
<!--/sec3-->
</svg>
</body></html>
